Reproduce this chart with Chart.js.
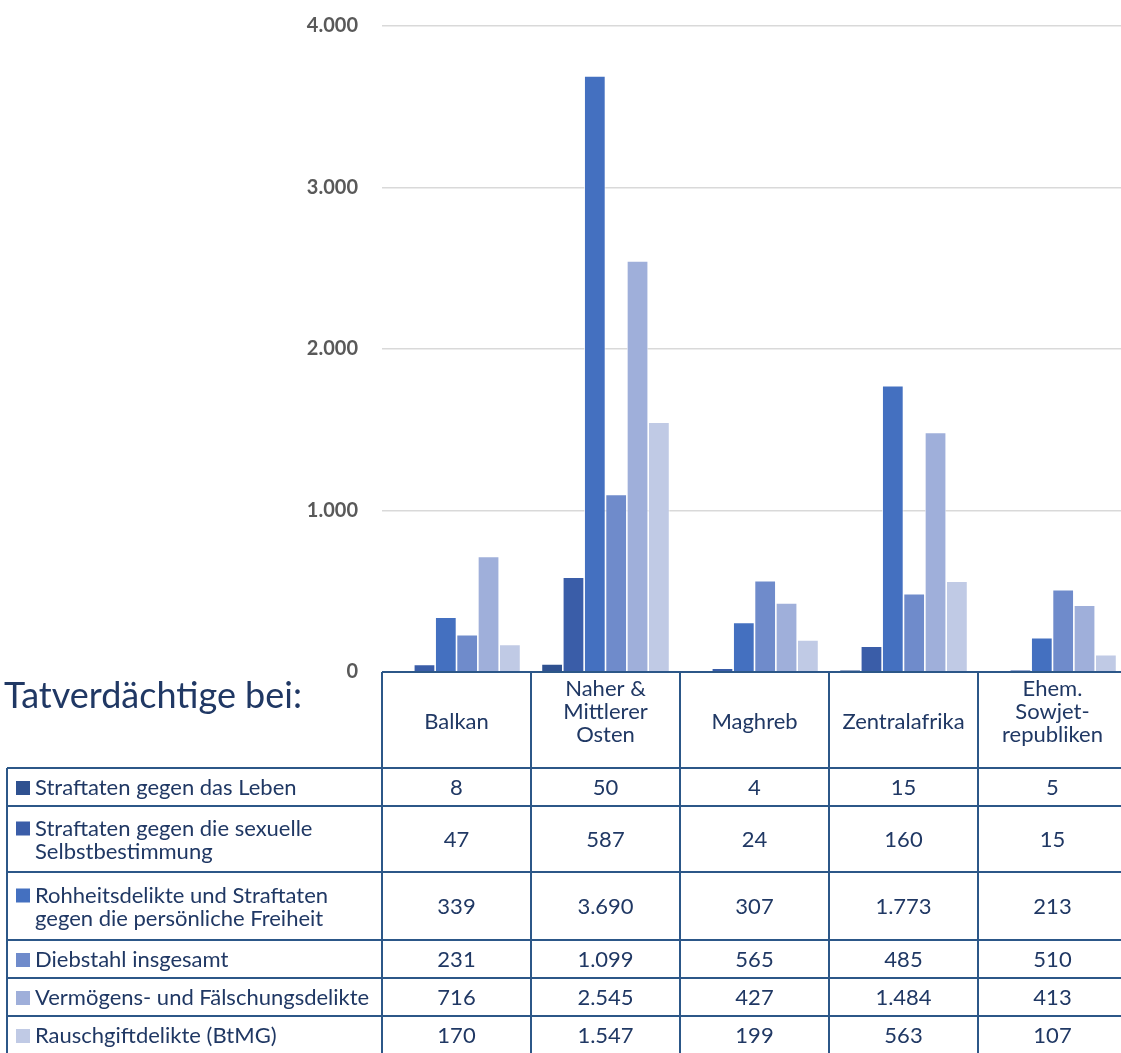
<!DOCTYPE html>
<html>
<head>
<meta charset="utf-8">
<script src="https://cdn.jsdelivr.net/npm/chart.js@4"></script>
<style>
  html, body { margin: 0; padding: 0; overflow: hidden; background: #fff; }
  #wrap { width: 1130px; height: 1053px; }
</style>
</head>
<body>
<div id="wrap"><canvas id="myChart" width="1130" height="1053"></canvas></div>
<script>
// regions (table header labels)
var categories = ["Balkan", ["Naher &", "Mittlerer", "Osten"], "Maghreb", "Zentralafrika", ["Ehem.", "Sowjet-", "republiken"]];
var seriesNames = [
  "Straftaten gegen das Leben",
  ["Straftaten gegen die sexuelle", "Selbstbestimmung"],
  ["Rohheitsdelikte und Straftaten", "gegen die persönliche Freiheit"],
  "Diebstahl insgesamt",
  "Vermögens- und Fälschungsdelikte",
  "Rauschgiftdelikte (BtMG)"
];
var leben = [8, 50, 4, 15, 5];
var sexuell = [47, 587, 24, 160, 15];
var rohheit = [339, 3690, 307, 1773, 213];
var diebstahl = [231, 1099, 565, 485, 510];
var vermoegen = [716, 2545, 427, 1484, 413];
var rausch = [170, 1547, 199, 563, 107];
var yTicks = [0, 1000, 2000, 3000, 4000];

var barColors = ["#2F5190", "#3A5DA8", "#4470C0", "#6F8BCB", "#9FAFDA", "#C0CAE5"];
var allSeries = [leben, sexuell, rohheit, diebstahl, vermoegen, rausch];

var textColor = "#203864";
var lineColor = "#2C5788";
var rowHeights = [38, 66, 68, 38, 38, 38];
var headerHeight = 96;
var tableLeft = 7;

function fmt(v) {
  var s = String(Math.round(v));
  return s.replace(/\B(?=(\d{3})+(?!\d))/g, ".");
}

var tablePlugin = {
  id: "dataTable",
  afterDraw: function (chart) {
    var ctx = chart.ctx;
    var x = chart.scales.x;
    var area = chart.chartArea;
    var top = area.bottom;
    var n = categories.length;
    var colW = (area.right - area.left) / n;
    ctx.save();
    ctx.fillStyle = textColor;
    ctx.font = "36px Lato";
    ctx.textAlign = "left";
    ctx.textBaseline = "middle";
    ctx.fillText("Tatverdächtige bei:", 4, 696);

    ctx.strokeStyle = lineColor;
    ctx.lineWidth = 2;
    var bodyTop = top + headerHeight;
    var bottom = bodyTop;
    rowHeights.forEach(function (h) { bottom += h; });
    ctx.beginPath();
    ctx.moveTo(area.left, top); ctx.lineTo(area.right + 5, top);
    for (var i = 0; i <= n; i++) {
      var lx = area.left + i * colW;
      ctx.moveTo(lx, top); ctx.lineTo(lx, bottom);
    }
    ctx.moveTo(tableLeft, bodyTop); ctx.lineTo(tableLeft, bottom);
    var ry = bodyTop;
    ctx.moveTo(tableLeft, ry); ctx.lineTo(area.right + 5, ry);
    rowHeights.forEach(function (h) {
      ry += h;
      ctx.moveTo(tableLeft, ry); ctx.lineTo(area.right + 5, ry);
    });
    ctx.stroke();

    ctx.font = "22px Lato";
    ctx.textAlign = "center";
    categories.forEach(function (c, i) {
      var lines = Array.isArray(c) ? c : [c];
      var cx = x.getPixelForValue(i);
      var cy = top + headerHeight / 2 + (lines.length > 1 ? -8 : 2);
      lines.forEach(function (t, k) {
        ctx.fillText(t, cx, cy + (k - (lines.length - 1) / 2) * 23);
      });
    });

    ry = bodyTop;
    allSeries.forEach(function (vals, s) {
      var h = rowHeights[s];
      var cy = ry + h / 2 + 1;
      var name = seriesNames[s];
      var lines = Array.isArray(name) ? name : [name];
      ctx.textAlign = "left";
      ctx.fillStyle = barColors[s];
      var firstY = cy - (lines.length - 1) / 2 * 23;
      ctx.fillRect(16, firstY - 7, 14, 14);
      ctx.fillStyle = textColor;
      lines.forEach(function (t, k) {
        ctx.fillText(t, 35, firstY + k * 23);
      });
      ctx.textAlign = "center";
      vals.forEach(function (v, i) {
        ctx.fillText(fmt(v), x.getPixelForValue(i), cy);
      });
      ry += h;
    });
    ctx.restore();
  }
};

var datasets = allSeries.map(function (vals, s) {
  var name = seriesNames[s];
  return {
    label: Array.isArray(name) ? name.join(" ") : name,
    data: vals,
    backgroundColor: barColors[s],
    borderColor: "#ffffff",
    borderWidth: 0.8,
    barPercentage: 1,
    categoryPercentage: 0.86
  };
});

new Chart("myChart", {
  type: "bar",
  data: {
    labels: categories.map(function (c) { return Array.isArray(c) ? c.join(" ") : c; }),
    datasets: datasets
  },
  options: {
    responsive: false,
    animation: false,
    devicePixelRatio: 1,
    layout: { padding: { left: 0, right: 3, top: 26, bottom: 381 } },
    plugins: {
      legend: { display: false },
      tooltip: { enabled: false },
      title: { display: false }
    },
    scales: {
      x: { display: false },
      y: {
        min: 0,
        max: 4000,
        afterFit: function (scale) {
          scale.width = 382;
          scale.paddingTop = 0;
          scale.paddingBottom = 0;
        },
        afterBuildTicks: function (scale) {
          scale.ticks = yTicks.map(function (v) { return { value: v }; });
        },
        border: { display: false },
        grid: { color: "#D9D9D9", lineWidth: 1.5, drawTicks: false },
        ticks: {
          padding: 24,
          color: "#595959",
          font: { family: "Lato", size: 20, weight: "bold" },
          callback: function (v) { return fmt(v); }
        }
      }
    }
  },
  plugins: [tablePlugin]
});
</script>
</body>
</html>
